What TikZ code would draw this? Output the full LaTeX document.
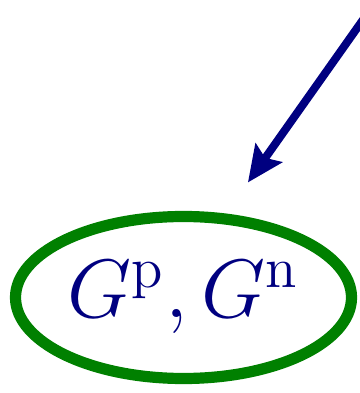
\documentclass[tikz,border=0pt]{standalone}
\usepackage{amsmath}
\usepackage{tikz}
\usepackage{xcolor}
\usetikzlibrary{arrows.meta,positioning,shapes.geometric,calc}

\definecolor{navyblue}{RGB}{0,0,128}
\definecolor{setgreen}{RGB}{0,128,0}

\begin{document}
\begin{tikzpicture}[x=0.25pt,y=-0.25pt,>=stealth]

\tikzstyle{setnode}=[
  ellipse,
  draw=setgreen,
  line width=2.8pt,
  minimum width=84pt,
  minimum height=40.5pt,
  inner sep=0pt,
  text=navyblue,
  font=\fontsize{19.3}{23}\selectfont
]

\tikzstyle{link}=[
  draw=navyblue,
  line width=2pt,
  -{Stealth[length=9pt,width=8pt,inset=1.5pt]}
]

% frame of the picture
\useasboundingbox (0,0) rectangle (360,393);

\node[setnode] (gset) at (183.5,297.5) {$G^{\mathrm{p}}, G^{\mathrm{n}}$};

% incoming arrow
\coordinate (src) at (372,7);
\draw[link] (src) -- ([xshift=16.1pt,yshift=7.1pt]gset.north);

\end{tikzpicture}
\end{document}
